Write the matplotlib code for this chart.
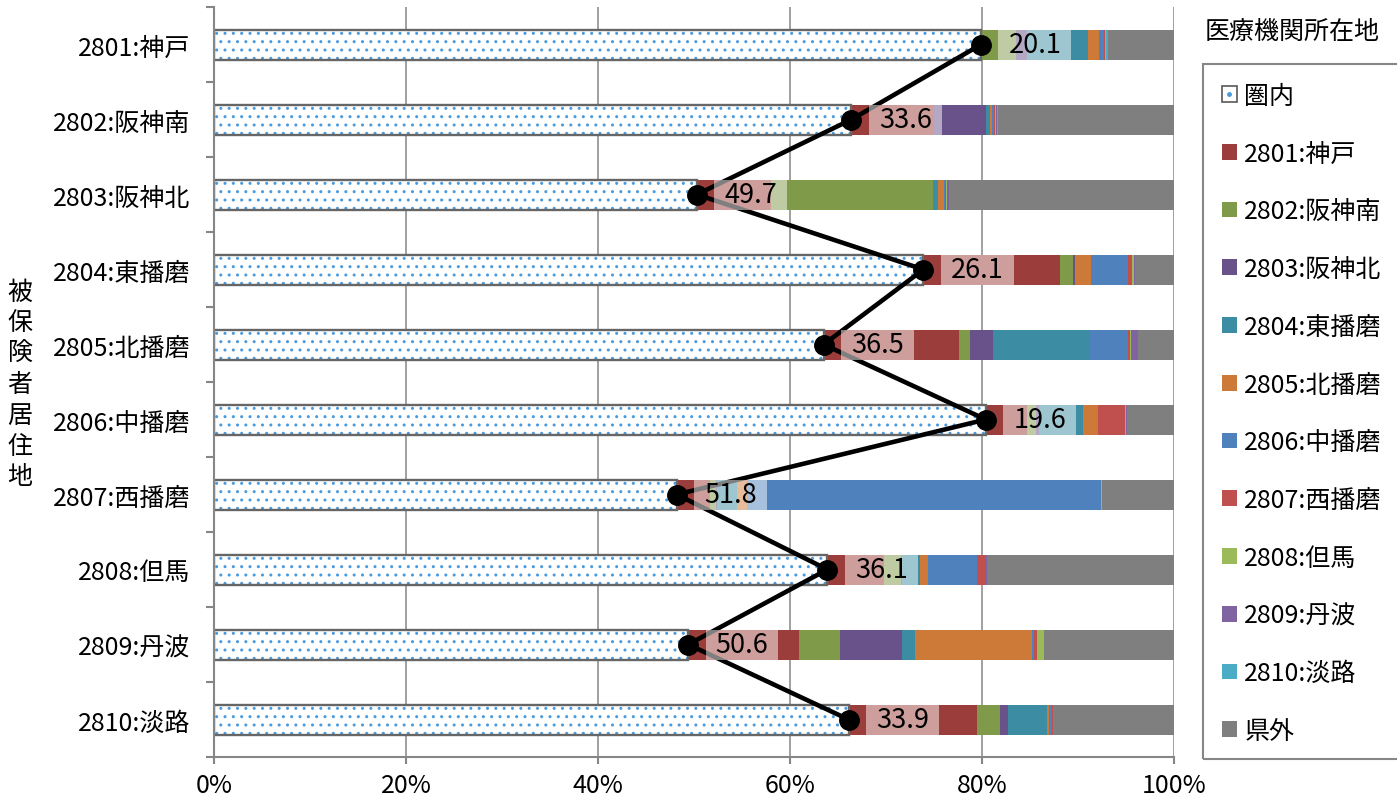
import numpy as np
import matplotlib.pyplot as plt
from matplotlib.patches import Patch, Rectangle
from matplotlib.lines import Line2D

plt.rcParams['font.family'] = ['Noto Sans CJK JP', 'DejaVu Sans']

# 被保険者居住地 (rows)
residence = ['2801:神戸', '2802:阪神南', '2803:阪神北', '2804:東播磨', '2805:北播磨',
             '2806:中播磨', '2807:西播磨', '2808:但馬', '2809:丹波', '2810:淡路']

# share treated inside own area (%)
inner = [79.9, 66.4, 50.3, 73.9, 63.5, 80.4, 48.2, 63.9, 49.4, 66.1]

# share treated in each other area (%), one list per destination
d2801 = [0.0, 8.6, 7.7, 14.2, 14.1, 4.3, 3.5, 5.9, 11.5, 13.4]
d2802 = [3.6, 0.0, 16.9, 1.4, 1.2, 0.9, 0.6, 1.8, 4.3, 2.4]
d2803 = [1.2, 5.4, 0.0, 0.2, 2.3, 0.3, 0.1, 0.1, 6.5, 0.8]
d2804 = [6.3, 0.4, 0.5, 0.0, 10.1, 4.6, 2.1, 1.8, 1.3, 4.1]
d2805 = [1.2, 0.2, 0.6, 1.7, 0.0, 1.6, 1.0, 0.9, 12.2, 0.2]
d2806 = [0.5, 0.2, 0.1, 3.8, 4.0, 0.0, 36.9, 5.1, 0.2, 0.3]
d2807 = [0.1, 0.2, 0.2, 0.4, 0.2, 2.8, 0.0, 0.8, 0.3, 0.1]
d2808 = [0.1, 0.1, 0.1, 0.2, 0.1, 0.1, 0.1, 0.0, 0.8, 0.0]
d2809 = [0.0, 0.1, 0.2, 0.1, 0.7, 0.1, 0.0, 0.2, 0.0, 0.0]
d2810 = [0.2, 0.1, 0.0, 0.0, 0.0, 0.0, 0.0, 0.0, 0.0, 0.0]
outside_pref = [6.9, 18.3, 23.4, 4.1, 3.8, 4.9, 7.5, 19.5, 13.5, 12.6]

dest_names = ['2801:神戸', '2802:阪神南', '2803:阪神北', '2804:東播磨', '2805:北播磨',
              '2806:中播磨', '2807:西播磨', '2808:但馬', '2809:丹波', '2810:淡路', '県外']
dest_colors = ['#9B3D3A', '#7F9A48', '#69518A', '#3C8DA3', '#CD7A38',
               '#4F81BD', '#C0504D', '#9BBB59', '#8064A2', '#4BACC6', '#7F7F7F']
series = [d2801, d2802, d2803, d2804, d2805, d2806, d2807, d2808, d2809, d2810, outside_pref]

dot_color = '#4A9BDD'
grid_color = '#868686'

fig = plt.figure(figsize=(13.97, 8.03), dpi=100)
ax = fig.add_axes([214 / 1397, 45 / 803, 960 / 1397, 750 / 803])

y = np.arange(len(residence))
inner = np.array(inner)

# 圏内 bar: dotted fill + grey outline
ax.barh(y, inner, height=0.4, color='white', edgecolor=dot_color, hatch='..', linewidth=0, zorder=2)
ax.barh(y, inner, height=0.4, fill=False, edgecolor='#666666', linewidth=1.7, zorder=2.1)

left = inner.copy()
for vals, col in zip(series, dest_colors):
    vals = np.array(vals)
    ax.barh(y, vals, left=left, height=0.4, color=col, linewidth=0, zorder=2)
    left += vals

# line through the end of 圏内
ax.plot(inner, y, color='black', lw=3.3, marker='o', ms=14, zorder=4)

# data labels (share outside own area) with translucent box
outside_share = 100 - inner
ax.barh(y, 7.6, left=inner + 1.8, height=0.4, color='white', alpha=0.5, linewidth=0, zorder=5)
for yi, xi, v in zip(y, inner, outside_share):
    ax.text(xi + 5.6, yi, '%.1f' % v, ha='center', va='center', fontsize=19.5, zorder=6)

ax.set_xlim(0, 100)
ax.set_ylim(len(residence) - 0.5, -0.5)
ax.set_xticks(range(0, 101, 20))
ax.set_xticklabels(['%d%%' % v for v in range(0, 101, 20)])
ax.set_yticks(y)
ax.set_yticklabels(residence)
ax.set_yticks(np.arange(-0.5, len(residence), 1), minor=True)
ax.tick_params(axis='y', which='major', length=0, pad=17, labelsize=18)
ax.tick_params(axis='y', which='minor', length=6, width=1.5, color=grid_color)
ax.tick_params(axis='x', length=5, width=1.5, color=grid_color, pad=6, labelsize=18)
ax.grid(axis='x', color=grid_color, lw=1.1)
ax.set_axisbelow(True)
for s in ['top', 'right']:
    ax.spines[s].set_visible(False)
for s in ['left', 'bottom']:
    ax.spines[s].set_color(grid_color)
    ax.spines[s].set_linewidth(1.5)

# vertical axis title
fig.text(20 / 1397, 1 - 385 / 803, '\n'.join('被保険者居住地'), ha='center', va='center',
         fontsize=18, linespacing=1.24)

# legend
handles = [(Patch(facecolor='white', edgecolor='#595959', linewidth=1.2),
            Line2D([], [], ls='', marker='o', ms=2.5, color=dot_color))]
handles += [Patch(facecolor=c, edgecolor='none') for c in dest_colors]
labels = ['圏内'] + dest_names
fig.legend(handles, labels, loc='upper left', bbox_to_anchor=(1203 / 1397, 1 - 65 / 803),
           frameon=False, fontsize=18, handlelength=0.6, handleheight=0.6,
           handletextpad=0.3, labelspacing=1.27, borderpad=0.75, borderaxespad=0)
fig.add_artist(Rectangle((1203 / 1397, 1 - 760 / 803), 0.5, (760 - 65) / 803,
                         transform=fig.transFigure, fill=False, edgecolor=grid_color, linewidth=1.5))
fig.text(1205 / 1397, 1 - 32 / 803, '医療機関所在地', fontsize=18, va='center')

fig.savefig('out.png', dpi=100)
